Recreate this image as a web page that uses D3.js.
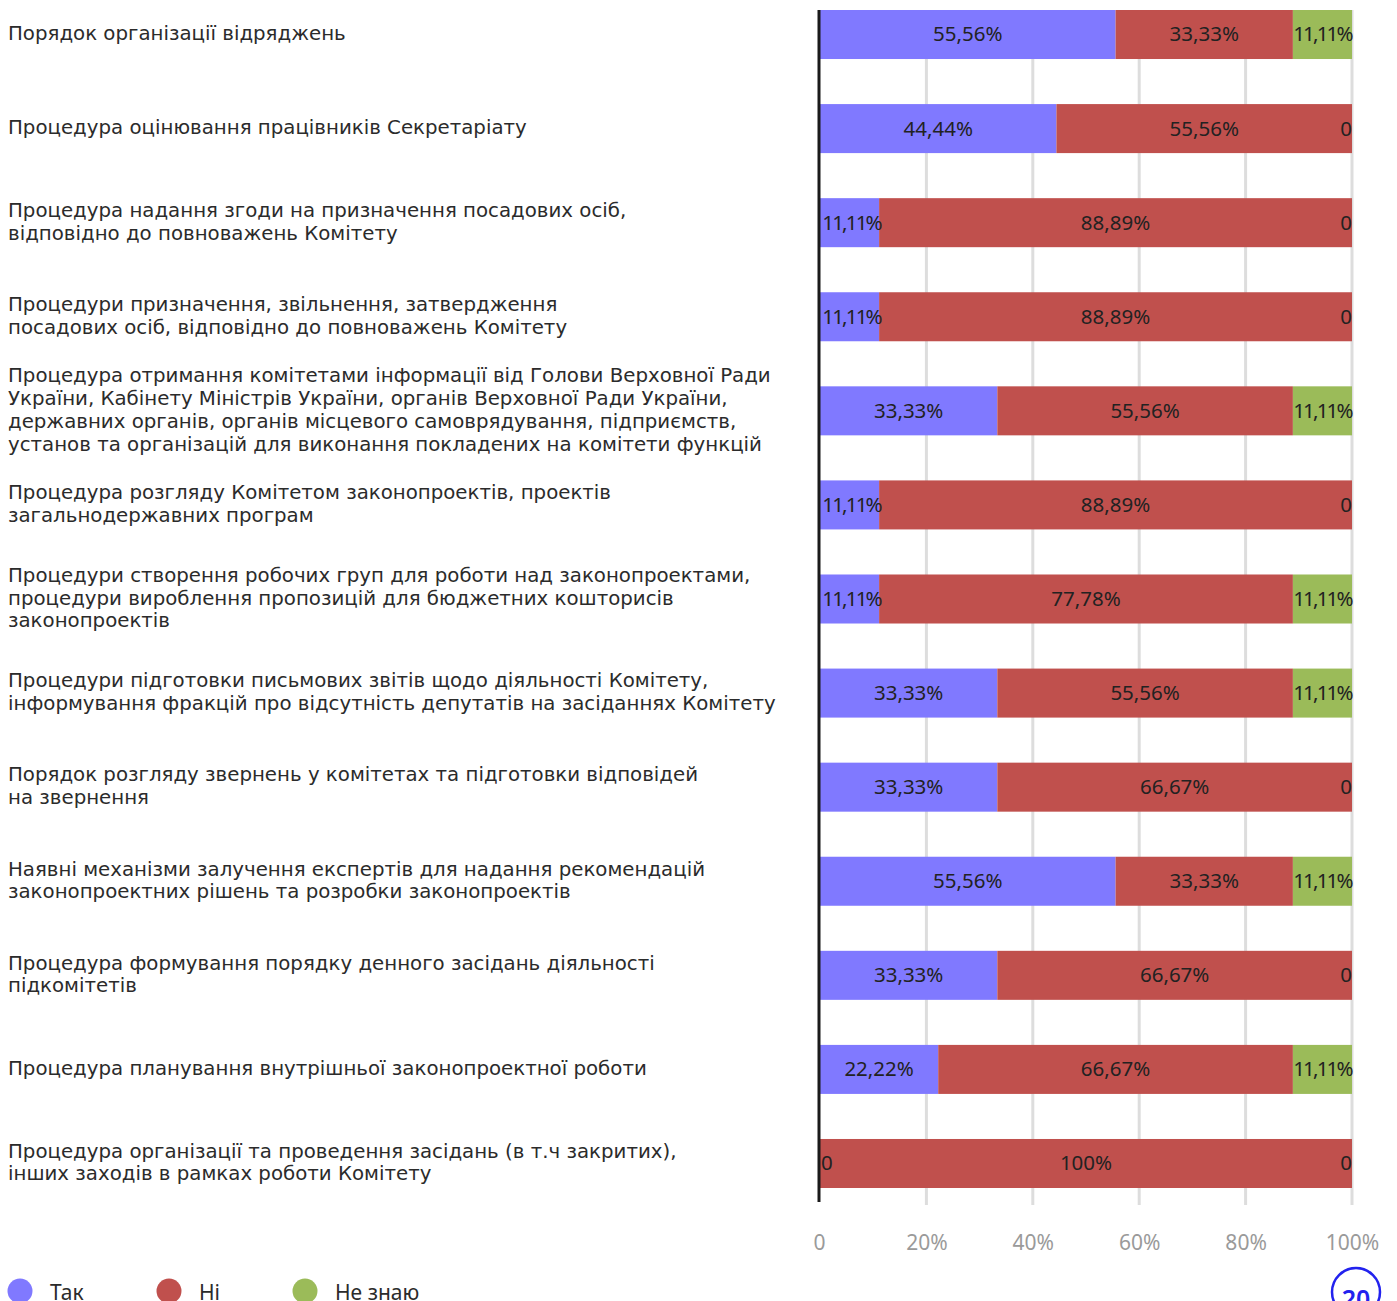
<!DOCTYPE html>
<html>
<head>
<meta charset="utf-8">
<script src="https://cdn.jsdelivr.net/npm/d3@7"></script>
<style>
  html, body { margin: 0; padding: 0; background: #fff; }
  svg { display: block; }
  text { font-family: "Noto Sans", "Open Sans", sans-serif; }
</style>
</head>
<body>
<svg id="chart" width="1397" height="1301"></svg>
<script>
const categories = [
  ["Порядок організації відряджень"],
  ["Процедура оцінювання працівників Секретаріату"],
  ["Процедура надання згоди на призначення посадових осіб,", "відповідно до повноважень Комітету"],
  ["Процедури призначення, звільнення, затвердження", "посадових осіб, відповідно до повноважень Комітету"],
  ["Процедура отримання комітетами інформації від Голови Верховної Ради", "України, Кабінету Міністрів України, органів Верховної Ради України,", "державних органів, органів місцевого самоврядування, підприємств,", "установ та організацій для виконання покладених на комітети функцій"],
  ["Процедура розгляду Комітетом законопроектів, проектів", "загальнодержавних програм"],
  ["Процедури створення робочих груп для роботи над законопроектами,", "процедури вироблення пропозицій для бюджетних кошторисів", "законопроектів"],
  ["Процедури підготовки письмових звітів щодо діяльності Комітету,", "інформування фракцій про відсутність депутатів на засіданнях Комітету"],
  ["Порядок розгляду звернень у комітетах та підготовки відповідей", "на звернення"],
  ["Наявні механізми залучення експертів для надання рекомендацій", "законопроектних рішень та розробки законопроектів"],
  ["Процедура формування порядку денного засідань діяльності", "підкомітетів"],
  ["Процедура планування внутрішньої законопроектної роботи"],
  ["Процедура організації та проведення засідань (в т.ч закритих),", "інших заходів в рамках роботи Комітету"]
];
const seriesNames = ["Так", "Ні", "Не знаю"];
const seriesColors = ["#8079ff", "#c0504d", "#9bbb59"];
const yesValues     = [55.56, 44.44, 11.11, 11.11, 33.33, 11.11, 11.11, 33.33, 33.33, 55.56, 33.33, 22.22, 0];
const noValues      = [33.33, 55.56, 88.89, 88.89, 55.56, 88.89, 77.78, 55.56, 66.67, 33.33, 66.67, 66.67, 100];
const dontKnowValues= [11.11, 0, 0, 0, 11.11, 0, 11.11, 11.11, 0, 11.11, 0, 11.11, 0];
const tickValues = [0, 20, 40, 60, 80, 100];
const tickLabels = ["0", "20%", "40%", "60%", "80%", "100%"];
const pageNumber = "20";

const svg = d3.select("#chart");
const x = d3.scaleLinear().domain([0, 100]).range([820, 1352]);
const y = d3.scaleBand().domain(d3.range(categories.length))
  .range([10, 1188]).paddingInner(0.479).paddingOuter(0);

const rows = categories.map((c, i) => ({ i, vals: [yesValues[i], noValues[i], dontKnowValues[i]] }));

// gridlines
svg.append("g").selectAll("line").data(tickValues.slice(1)).join("line")
  .attr("x1", d => x(d)).attr("x2", d => x(d))
  .attr("y1", 10).attr("y2", 1205)
  .attr("stroke", "#dddddd").attr("stroke-width", 3);

// bars
const fmt = v => v === 0 ? "0" : (Number.isInteger(v) ? v + "%" : v.toFixed(2).replace(".", ",") + "%");
const segs = [];
rows.forEach(r => {
  let acc = 0;
  r.vals.forEach((v, s) => {
    segs.push({ i: r.i, s, v, x0: acc, x1: acc + v });
    acc += v;
  });
});
svg.append("g").selectAll("rect").data(segs.filter(d => d.v > 0)).join("rect")
  .attr("x", d => x(d.x0)).attr("width", d => x(d.x1) - x(d.x0))
  .attr("y", d => y(d.i)).attr("height", y.bandwidth())
  .attr("fill", d => seriesColors[d.s]);

// value labels
svg.append("g").selectAll("text").data(segs).join("text")
  .attr("x", d => d.v > 0 ? (x(d.x0) + x(d.x1)) / 2 + ((d.v < 12 && d.x0 === 0) ? 2 : 0) : (d.x0 === 0 ? x(0) + 1 : x(d.x0)))
  .attr("text-anchor", d => d.v > 0 ? "middle" : (d.x0 === 0 ? "start" : "end"))
  .attr("y", d => y(d.i) + y.bandwidth() / 2)
  .attr("dy", "0.34em")
  .attr("font-size", 20.5)
  .attr("letter-spacing", d => (d.v > 0 && d.v < 12) ? "-1.8px" : "0px")
  .attr("fill", "#222")
  .text(d => fmt(d.v));

// axis line
svg.append("line").attr("x1", x(0) - 1).attr("x2", x(0) - 1).attr("y1", 10).attr("y2", 1202)
  .attr("stroke", "#1a1a1a").attr("stroke-width", 3);

// x axis ticks
const xAxis = d3.axisBottom(x).tickValues(tickValues).tickFormat((d, k) => tickLabels[k]).tickSize(0).tickPadding(0);
const gx = svg.append("g").attr("transform", "translate(0,1231)").call(xAxis);
gx.select(".domain").remove();
gx.selectAll("text").attr("font-size", 21).attr("fill", "#9a9a9a")
  .style("font-family", '"Noto Sans", sans-serif').attr("dy", "0.9em");
gx.selectAll(".tick").filter(d => d === 0).select("text").attr("x", -1);

// category labels
const lineH = 22.7;
const lab = svg.append("g").selectAll("text").data(categories).join("text")
  .attr("x", 8)
  .attr("font-size", 18)
  .style("font-family", '"DejaVu Sans", sans-serif')
  .attr("fill", "#2b2b2b");
lab.each(function (lines, i) {
  const cy = y(i) + y.bandwidth() / 2;
  const top = cy - (lines.length - 1) * lineH / 2;
  d3.select(this).selectAll("tspan").data(lines).join("tspan")
    .attr("x", 8).attr("y", (d, k) => top + k * lineH - 1.5).attr("dy", "0.36em")
    .text(d => d);
});
// fit widest line to reference width
let maxW = 0;
lab.selectAll("tspan").each(function () { maxW = Math.max(maxW, this.getComputedTextLength()); });
lab.attr("font-size", (18 * 768 / maxW).toFixed(2));

// legend
const leg = svg.append("g").selectAll("g").data(seriesNames).join("g")
  .attr("transform", (d, k) => `translate(${[20, 169, 305][k]},1291)`);
leg.append("circle").attr("r", 12.5).attr("fill", (d, k) => seriesColors[k]);
leg.append("text").attr("x", 30).attr("dy", "0.45em").attr("font-size", 21).attr("fill", "#2b2b2b").text(d => d);

// page number
svg.append("circle").attr("cx", 1356).attr("cy", 1292).attr("r", 24)
  .attr("fill", "none").attr("stroke", "#2222ee").attr("stroke-width", 2.5);
svg.append("text").attr("x", 1356).attr("y", 1308).attr("text-anchor", "middle")
  .attr("font-size", 25).attr("font-weight", 600).attr("fill", "#2222ee").text(pageNumber);
</script>
</body>
</html>
